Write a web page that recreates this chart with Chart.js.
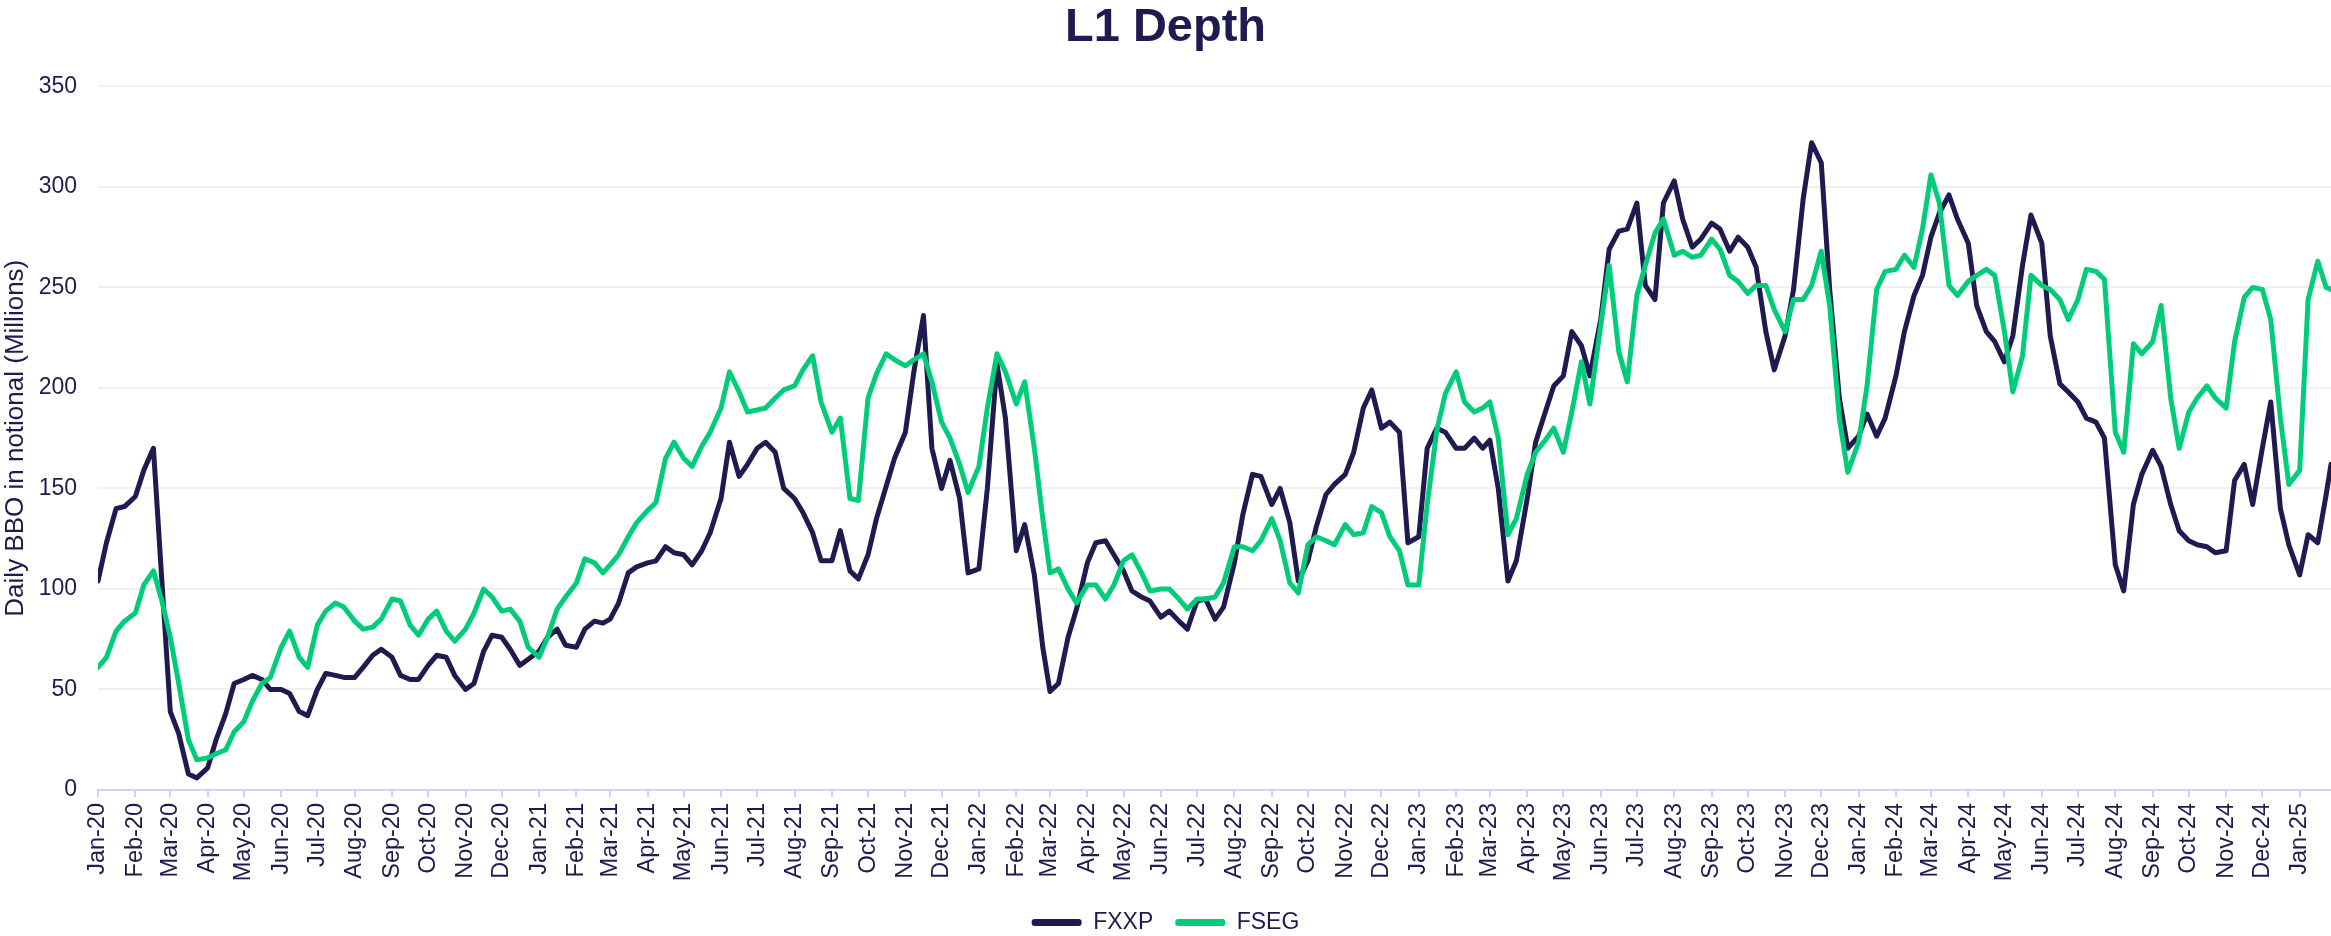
<!DOCTYPE html>
<html>
<head>
<meta charset="utf-8">
<title>L1 Depth</title>
<script src="https://cdn.jsdelivr.net/npm/chart.js@4.4.1/dist/chart.umd.min.js"></script>
<style>
  html, body { margin: 0; padding: 0; background: #ffffff; }
  #wrap { width: 2331px; height: 936px; position: relative; }
</style>
</head>
<body>
<div id="wrap"><canvas id="depthChart"></canvas></div>
<script>
// month tick labels on the x axis
const monthLabels = [
  'Jan-20', 'Feb-20', 'Mar-20', 'Apr-20', 'May-20', 'Jun-20', 'Jul-20', 'Aug-20', 'Sep-20', 'Oct-20', 'Nov-20', 'Dec-20',
  'Jan-21', 'Feb-21', 'Mar-21', 'Apr-21', 'May-21', 'Jun-21', 'Jul-21', 'Aug-21', 'Sep-21', 'Oct-21', 'Nov-21', 'Dec-21',
  'Jan-22', 'Feb-22', 'Mar-22', 'Apr-22', 'May-22', 'Jun-22', 'Jul-22', 'Aug-22', 'Sep-22', 'Oct-22', 'Nov-22', 'Dec-22',
  'Jan-23', 'Feb-23', 'Mar-23', 'Apr-23', 'May-23', 'Jun-23', 'Jul-23', 'Aug-23', 'Sep-23', 'Oct-23', 'Nov-23', 'Dec-23',
  'Jan-24', 'Feb-24', 'Mar-24', 'Apr-24', 'May-24', 'Jun-24', 'Jul-24', 'Aug-24', 'Sep-24', 'Oct-24', 'Nov-24', 'Dec-24',
  'Jan-25'
];

// values are read on the 1st, 8th, 16th and 23rd of every month, plus the last day shown
const sampleDays = [1, 8, 16, 23];
const lastSample = [2025, 0, 27];

// Daily BBO in notional (Millions)
const fxxp = [
  104, 123, 140, 141,  146, 159, 170, 104,  39, 28, 8, 6,  11, 25, 38, 53,
  55, 57, 55, 50,  50, 48, 39, 37,  50, 58, 57, 56,  56, 61, 67, 70,
  66, 57, 55, 55,  62, 67, 66, 57,  50, 53, 69, 77,  76, 70, 62, 65,
  // 2021
  69, 76, 80, 72,  71, 80, 84, 83,  85, 93, 108, 111,  113, 114, 121, 118,
  117, 112, 119, 128,  145, 173, 156, 162,  170, 173, 168, 150,  145, 138, 128, 114,
  114, 129, 109, 105,  117, 135, 151, 165,  178, 208, 236, 170,  150, 164, 145, 108,
  // 2022
  110, 150, 212, 185,  119, 132, 107, 71,  49, 53, 76, 90,  113, 123, 124, 117,
  109, 99, 96, 94,  86, 89, 84, 80,  94, 95, 85, 91,  113, 137, 157, 156,
  142, 150, 133, 104,  114, 131, 147, 152,  157, 168, 190, 199,  180, 183, 178, 123,
  // 2023
  126, 170, 180, 178,  170, 170, 175, 170,  174, 150, 104, 114,  145, 173, 188, 201,
  206, 228, 221, 206,  234, 269, 278, 279,  292, 251, 244, 292,  303, 284, 270, 274,
  282, 279, 268, 275,  270, 260, 228, 209,  226, 249, 294, 322,  312, 249, 195, 170,
  // 2024
  176, 187, 176, 185,  206, 228, 246, 256,  275, 287, 296, 284,  272, 241, 228, 223,
  213, 226, 261, 286,  272, 226, 202, 198,  193, 185, 183, 175,  112, 99, 142, 157,
  169, 161, 142, 129,  124, 122, 121, 118,  119, 154, 162, 142,  170, 193, 140, 122,
  // 2025
  107, 127, 123, 147,  162
];

const fseg = [
  61, 66, 79, 84,  88, 102, 109, 94,  76, 53, 25, 15,  16, 18, 20, 29,
  34, 44, 53, 56,  71, 79, 66, 61,  82, 89, 93, 91,  84, 80, 81, 85,
  95, 94, 82, 77,  85, 89, 79, 74,  80, 88, 100, 96,  89, 90, 84, 71,
  // 2021
  66, 76, 90, 96,  103, 115, 113, 108,  112, 117, 126, 133,  139, 143, 165, 173,
  165, 161, 171, 178,  190, 208, 198, 188,  189, 190, 195, 199,  201, 209, 216, 193,
  178, 185, 145, 144,  195, 207, 217, 214,  211, 214, 217, 203,  183, 175, 162, 148,
  // 2022
  161, 190, 217, 208,  192, 203, 170, 135,  108, 110, 100, 93,  102, 102, 95, 102,
  114, 117, 108, 99,  100, 100, 95, 90,  95, 95, 96, 103,  121, 121, 119, 124,
  135, 124, 103, 98,  122, 126, 124, 122,  132, 127, 128, 141,  138, 126, 119, 102,
  // 2023
  102, 142, 179, 197,  208, 193, 188, 190,  193, 175, 127, 135,  157, 168, 174, 180,
  168, 188, 213, 192,  231, 261, 218, 203,  246, 261, 277, 284,  266, 268, 265, 266,
  274, 269, 256, 253,  247, 251, 251, 239,  228, 244, 244, 251,  268, 241, 185, 158,
  // 2024
  173, 201, 249, 258,  259, 266, 260, 279,  306, 292, 251, 246,  253, 256, 259, 256,
  228, 198, 216, 256,  251, 249, 244, 234,  244, 259, 258, 254,  178, 168, 222, 217,
  223, 241, 195, 170,  188, 195, 201, 195,  190, 223, 245, 250,  249, 234, 185, 152,
  // 2025
  159, 244, 263, 250,  249
];

const NAVY = '#1f1a4f';
const GREEN = '#00cc7a';
const FONT = "'Liberation Sans', Arial, sans-serif";

// days since 1 Jan 2020, used as the linear x value
const dayOf = (y, m, d) => (Date.UTC(y, m, d) - Date.UTC(2020, 0, 1)) / 86400000;

const sampleX = [];
monthLabels.forEach((lab, k) => {
  sampleDays.forEach(d => sampleX.push(dayOf(2020 + Math.floor(k / 12), k % 12, d)));
});
sampleX.push(dayOf(...lastSample));

const tickX = monthLabels.map((lab, k) => dayOf(2020 + Math.floor(k / 12), k % 12, 1));

const toPoints = (vals) => vals.map((v, i) => ({ x: sampleX[i], y: v }));

const ctx = document.getElementById('depthChart').getContext('2d');
new Chart(ctx, {
  type: 'line',
  data: {
    datasets: [
      {
        label: 'FXXP',
        data: toPoints(fxxp),
        borderColor: NAVY,
        backgroundColor: NAVY,
        borderWidth: 5,
        pointRadius: 0,
        tension: 0,
        borderJoinStyle: 'round',
        borderCapStyle: 'round',
        order: 1
      },
      {
        label: 'FSEG',
        data: toPoints(fseg),
        borderColor: GREEN,
        backgroundColor: GREEN,
        borderWidth: 5,
        pointRadius: 0,
        tension: 0,
        borderJoinStyle: 'round',
        borderCapStyle: 'round',
        order: 0
      }
    ]
  },
  options: {
    responsive: true,
    maintainAspectRatio: false,
    animation: false,
    layout: {
      padding: { left: 0, right: 0, top: 0, bottom: -8 }
    },
    plugins: {
      title: {
        display: true,
        text: 'L1 Depth',
        color: NAVY,
        font: { family: FONT, size: 47, weight: 'bold' },
        padding: { top: 0, bottom: 30 }
      },
      legend: {
        position: 'bottom',
        labels: {
          color: NAVY,
          font: { family: FONT, size: 23 },
          boxWidth: 50,
          boxHeight: 7,
          padding: 22,
          useBorderRadius: true,
          borderRadius: 3,
          sort: (a, b) => a.datasetIndex - b.datasetIndex,
          generateLabels: (chart) => {
            const items = Chart.defaults.plugins.legend.labels.generateLabels(chart);
            return items.map(it => ({ ...it, lineWidth: 0 }));
          }
        }
      },
      tooltip: { enabled: false }
    },
    scales: {
      x: {
        type: 'linear',
        min: 0,
        max: dayOf(...lastSample),
        afterBuildTicks: (scale) => {
          scale.ticks = tickX.map(v => ({ value: v }));
        },
        afterFit: (scale) => {
          scale.height = 99;
          scale.paddingLeft = 0;
          scale.paddingRight = 0;
        },
        border: { display: true, color: '#d3d0f5', width: 2 },
        grid: {
          drawOnChartArea: false,
          drawTicks: true,
          tickLength: 7,
          color: '#d3d0f5',
          lineWidth: 2
        },
        ticks: {
          autoSkip: false,
          minRotation: 90,
          maxRotation: 90,
          padding: 6,
          color: NAVY,
          font: { family: FONT, size: 23.5 },
          callback: (value, index) => monthLabels[index]
        }
      },
      y: {
        min: 0,
        max: 350,
        afterFit: (scale) => {
          scale.width = 98;
        },
        border: { display: false },
        grid: {
          color: '#f0f0f0',
          lineWidth: 2,
          drawTicks: false
        },
        ticks: {
          stepSize: 50,
          padding: 21,
          color: NAVY,
          font: { family: FONT, size: 23 }
        },
        title: {
          display: true,
          text: 'Daily BBO in notional (Millions)',
          color: NAVY,
          font: { family: FONT, size: 26 },
          padding: { top: 0, bottom: 0 }
        }
      }
    }
  }
});
</script>
</body>
</html>
